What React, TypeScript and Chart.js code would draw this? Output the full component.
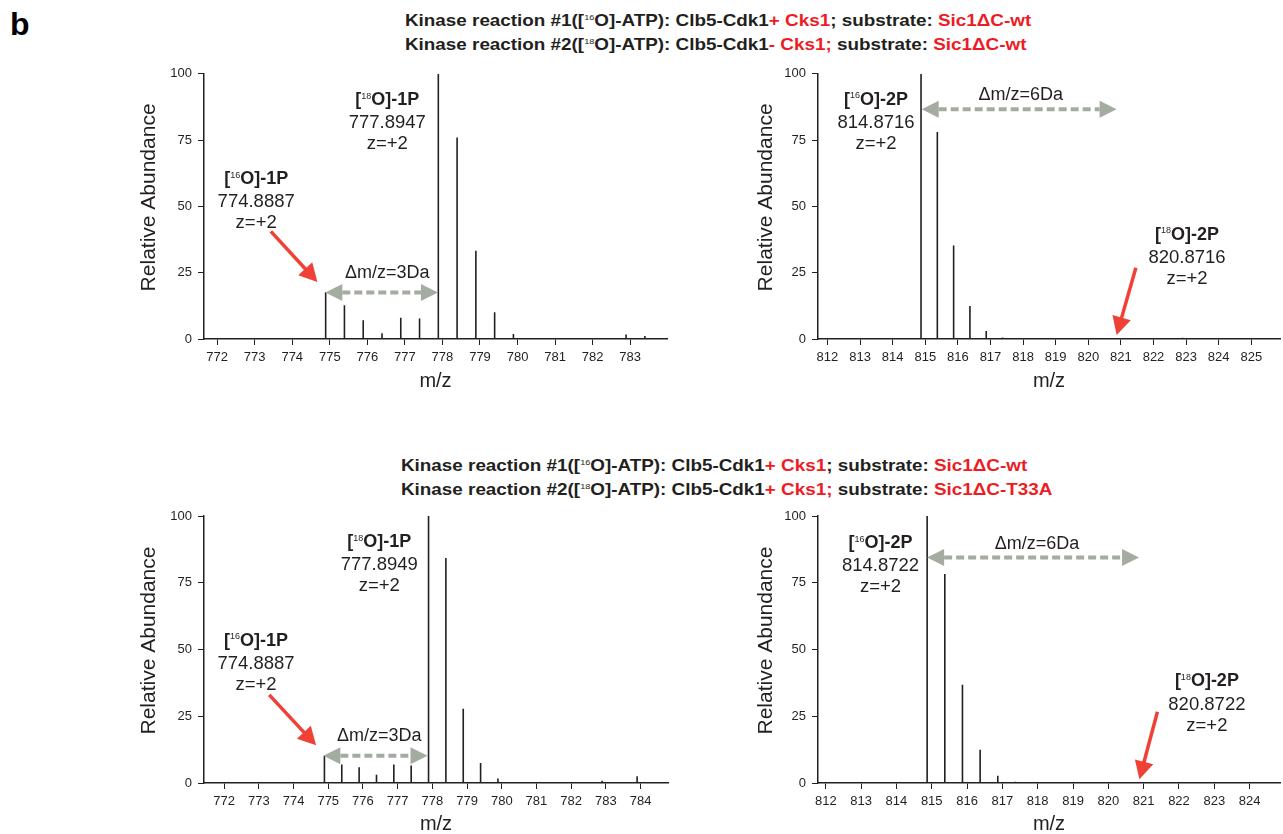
import React, { useEffect, useLayoutEffect, useRef } from 'react';
import { Chart, registerables } from 'chart.js';

Chart.register(...registerables);

const FONT = '"Liberation Sans", Arial, Helvetica, sans-serif';
const INK = '#231f20';
const RED_TEXT = '#ed1c24';
const RED_ARROW = '#ef4136';
const GRAY_ARROW = '#a4aca2';

// ---------------- data ----------------
const yTicks = [0, 25, 50, 75, 100];

// top-left spectrum
const mzTopLeft = [773.4, 774.89, 775.39, 775.89, 776.39, 776.89, 777.39, 777.89, 778.39, 778.89, 779.39, 779.89, 780.4, 782.89, 783.39];
const abTopLeft = [0.3, 17.6, 12.7, 7.1, 2.2, 8.0, 7.7, 100, 76, 33.3, 10.1, 1.9, 0.4, 1.7, 1.1];
const xTicksTopLeft = [772, 773, 774, 775, 776, 777, 778, 779, 780, 781, 782, 783];

// top-right spectrum
const mzTopRight = [814.37, 814.87, 815.37, 815.87, 816.37, 816.87, 817.37, 822.89, 823.39];
const abTopRight = [0.3, 100, 78.1, 35.3, 12.4, 3.0, 0.6, 0.5, 0.4];
const xTicksTopRight = [812, 813, 814, 815, 816, 817, 818, 819, 820, 821, 822, 823, 824, 825];

// bottom-left spectrum
const mzBottomLeft = [772.9, 774.89, 775.39, 775.89, 776.39, 776.89, 777.39, 777.89, 778.39, 778.89, 779.39, 779.89, 780.39, 782.89, 783.39, 783.9];
const abBottomLeft = [0.3, 10.2, 6.9, 5.9, 3.1, 6.9, 6.6, 100, 84.3, 27.8, 7.5, 1.7, 0.4, 0.8, 0.4, 2.5];
const xTicksBottomLeft = [772, 773, 774, 775, 776, 777, 778, 779, 780, 781, 782, 783, 784];

// bottom-right spectrum
const mzBottomRight = [813.9, 814.37, 814.87, 815.37, 815.87, 816.37, 816.87, 817.37, 823.4];
const abBottomRight = [0.3, 0.3, 100, 78.3, 36.8, 12.5, 2.7, 0.5, 0.3];
const xTicksBottomRight = [812, 813, 814, 815, 816, 817, 818, 819, 820, 821, 822, 823, 824];

// annotation texts
const isoTopLeft = [
  { iso: '18', tail: 'O]-1P', lines: ['777.8947', 'z=+2'], x: 776.53, y: 90.6 },
  { iso: '16', tail: 'O]-1P', lines: ['774.8887', 'z=+2'], x: 773.04, y: 60.8 },
];
const isoTopRight = [
  { iso: '16', tail: 'O]-2P', lines: ['814.8716', 'z=+2'], x: 813.49, y: 90.7 },
  { iso: '18', tail: 'O]-2P', lines: ['820.8716', 'z=+2'], x: 823.03, y: 39.8 },
];
const isoBottomLeft = [
  { iso: '18', tail: 'O]-1P', lines: ['777.8949', 'z=+2'], x: 776.47, y: 90.8 },
  { iso: '16', tail: 'O]-1P', lines: ['774.8887', 'z=+2'], x: 772.92, y: 53.9 },
];
const isoBottomRight = [
  { iso: '16', tail: 'O]-2P', lines: ['814.8722', 'z=+2'], x: 813.55, y: 90.4 },
  { iso: '18', tail: 'O]-2P', lines: ['820.8722', 'z=+2'], x: 822.79, y: 38.6 },
];

// titles (text, colour, superscript?)
const titleTop1 = [
  ['Kinase reaction #1([', INK, false], ['16', INK, true], ['O]-ATP): Clb5-Cdk1', INK, false],
  ['+ Cks1', RED_TEXT, false], ['; substrate: ', INK, false], ['Sic1ΔC-wt', RED_TEXT, false],
];
const titleTop2 = [
  ['Kinase reaction #2([', INK, false], ['18', INK, true], ['O]-ATP): Clb5-Cdk1', INK, false],
  ['- Cks1;', RED_TEXT, false], [' substrate: ', INK, false], ['Sic1ΔC-wt', RED_TEXT, false],
];
const titleBottom1 = [
  ['Kinase reaction #1([', INK, false], ['16', INK, true], ['O]-ATP): Clb5-Cdk1', INK, false],
  ['+ Cks1', RED_TEXT, false], ['; substrate: ', INK, false], ['Sic1ΔC-wt', RED_TEXT, false],
];
const titleBottom2 = [
  ['Kinase reaction #2([', INK, false], ['18', INK, true], ['O]-ATP): Clb5-Cdk1', INK, false],
  ['+ Cks1;', RED_TEXT, false], [' substrate: ', INK, false], ['Sic1ΔC-T33A', RED_TEXT, false],
];

// ---------------- panels ----------------
const PANELS = [
  {
    mz: mzTopLeft, ab: abTopLeft, xTicks: xTicksTopLeft, xMin: 771.65, xMax: 783.98,
    iso: isoTopLeft,
    delta: { text: 'Δm/z=3Da', x: 776.53, y: 25.5 },
    gray: { x1: 774.88, x2: 777.88, y: 17.5 },
    red: { x1: 773.43, y1: 40.6, x2: 774.67, y2: 21.5 },
    box: { left: 130, top: 60, width: 545, height: 335, padTop: 12, padRight: 8, xAxisH: 56, yAxisW: 74, mzPad: 4, yTitleGap: 55 },
  },
  {
    mz: mzTopRight, ab: abTopRight, xTicks: xTicksTopRight, xMin: 811.71, xMax: 825.88,
    iso: isoTopRight,
    delta: { text: 'Δm/z=6Da', x: 817.93, y: 92.6 },
    gray: { x1: 814.89, x2: 820.87, y: 86.6 },
    red: { x1: 821.46, y1: 26.9, x2: 820.87, y2: 1.5 },
    box: { left: 745, top: 60, width: 538, height: 335, padTop: 13, padRight: 3, xAxisH: 56, yAxisW: 73, mzPad: 4, yTitleGap: 52 },
  },
  {
    mz: mzBottomLeft, ab: abBottomLeft, xTicks: xTicksBottomLeft, xMin: 771.42, xMax: 784.79,
    iso: isoBottomLeft,
    delta: { text: 'Δm/z=3Da', x: 776.47, y: 18.0 },
    gray: { x1: 774.86, x2: 777.86, y: 10.2 },
    red: { x1: 773.3, y1: 33.0, x2: 774.65, y2: 14.1 },
    box: { left: 130, top: 500, width: 545, height: 334, padTop: 16, padRight: 7, xAxisH: 51, yAxisW: 74, mzPad: 0, yTitleGap: 55 },
  },
  {
    mz: mzBottomRight, ab: abBottomRight, xTicks: xTicksBottomRight, xMin: 811.78, xMax: 824.86,
    iso: isoBottomRight,
    delta: { text: 'Δm/z=6Da', x: 817.98, y: 90.0 },
    gray: { x1: 814.87, x2: 820.87, y: 84.5 },
    red: { x1: 821.39, y1: 26.7, x2: 820.88, y2: 1.4 },
    box: { left: 745, top: 500, width: 538, height: 334, padTop: 16, padRight: 3, xAxisH: 51, yAxisW: 73, mzPad: 0, yTitleGap: 52 },
  },
];

// ---------------- drawing helpers ----------------
function drawIsoLabel(ctx, cx, cy, iso, tail, lines) {
  ctx.save();
  ctx.fillStyle = INK;
  ctx.textAlign = 'left';
  ctx.textBaseline = 'alphabetic';
  const boldF = `bold 18px ${FONT}`;
  const supF = `9px ${FONT}`;
  ctx.font = boldF;
  const wOpen = ctx.measureText('[').width;
  const wTail = ctx.measureText(tail).width;
  ctx.font = supF;
  const wSup = ctx.measureText(iso).width;
  const total = wOpen + wSup + wTail;
  const x0 = cx - total / 2;
  const base = cy + 6.5;
  ctx.font = boldF;
  ctx.fillText('[', x0, base);
  ctx.font = supF;
  ctx.fillText(iso, x0 + wOpen, base - 6.5);
  ctx.font = boldF;
  ctx.fillText(tail, x0 + wOpen + wSup, base);
  ctx.font = `18.5px ${FONT}`;
  ctx.textAlign = 'center';
  const gaps = [23, 21];
  let yy = cy;
  lines.forEach((t, i) => {
    yy += gaps[i] || 21;
    ctx.fillText(t, cx, yy + 6.6);
  });
  ctx.restore();
}

function drawRedArrow(ctx, x1, y1, x2, y2) {
  const ang = Math.atan2(y2 - y1, x2 - x1);
  const headL = 18;
  const headW = 9.5;
  const bx = x2 - Math.cos(ang) * headL;
  const by = y2 - Math.sin(ang) * headL;
  ctx.save();
  ctx.strokeStyle = RED_ARROW;
  ctx.fillStyle = RED_ARROW;
  ctx.lineWidth = 3.5;
  ctx.beginPath();
  ctx.moveTo(x1, y1);
  ctx.lineTo(bx + Math.cos(ang) * 2, by + Math.sin(ang) * 2);
  ctx.stroke();
  ctx.beginPath();
  ctx.moveTo(x2, y2);
  ctx.lineTo(bx + Math.sin(ang) * headW, by - Math.cos(ang) * headW);
  ctx.lineTo(bx - Math.sin(ang) * headW, by + Math.cos(ang) * headW);
  ctx.closePath();
  ctx.fill();
  ctx.restore();
}

function drawGrayArrow(ctx, xa, xb, y) {
  const headL = 17;
  const headH = 8.5;
  ctx.save();
  ctx.strokeStyle = GRAY_ARROW;
  ctx.fillStyle = GRAY_ARROW;
  ctx.lineWidth = 4;
  ctx.setLineDash([8, 4]);
  ctx.beginPath();
  ctx.moveTo(xa + headL, y);
  ctx.lineTo(xb - headL, y);
  ctx.stroke();
  ctx.setLineDash([]);
  ctx.beginPath();
  ctx.moveTo(xa, y);
  ctx.lineTo(xa + headL, y - headH);
  ctx.lineTo(xa + headL, y + headH);
  ctx.closePath();
  ctx.fill();
  ctx.beginPath();
  ctx.moveTo(xb, y);
  ctx.lineTo(xb - headL, y - headH);
  ctx.lineTo(xb - headL, y + headH);
  ctx.closePath();
  ctx.fill();
  ctx.restore();
}

function annotationPlugin(p, idx) {
  return {
    id: 'spectrumAnnotations' + idx,
    afterDraw(chart) {
      const { ctx, chartArea } = chart;
      const xs = chart.scales.x;
      const ys = chart.scales.y;
      const px = (v) => xs.getPixelForValue(v);
      const py = (v) => ys.getPixelForValue(v);

      // y-axis title
      ctx.save();
      ctx.translate(chartArea.left - p.box.yTitleGap, (chartArea.top + chartArea.bottom) / 2 - 9);
      ctx.rotate(-Math.PI / 2);
      ctx.font = `21px ${FONT}`;
      ctx.fillStyle = INK;
      ctx.textAlign = 'center';
      ctx.textBaseline = 'middle';
      ctx.fillText('Relative Abundance', 0, 0);
      ctx.restore();

      p.iso.forEach((l) => drawIsoLabel(ctx, px(l.x), py(l.y), l.iso, l.tail, l.lines));

      ctx.save();
      ctx.font = `18px ${FONT}`;
      ctx.fillStyle = INK;
      ctx.textAlign = 'center';
      ctx.textBaseline = 'alphabetic';
      ctx.fillText(p.delta.text, px(p.delta.x), py(p.delta.y) + 6.5);
      ctx.restore();

      drawGrayArrow(ctx, px(p.gray.x1), px(p.gray.x2), py(p.gray.y));
      drawRedArrow(ctx, px(p.red.x1), py(p.red.y1), px(p.red.x2), py(p.red.y2));
    },
  };
}

function buildChart(canvas, p, idx) {
  const spikes = [];
  p.mz.forEach((m, i) => {
    spikes.push({ x: m, y: 0 }, { x: m, y: p.ab[i] }, { x: m, y: null });
  });
  const axisCommon = {
    grid: { display: true, drawOnChartArea: false, drawTicks: true, tickLength: 6, color: INK, lineWidth: 1 },
    border: { display: true, color: INK, width: 1.5 },
  };
  return new Chart(canvas, {
    type: 'line',
    data: {
      datasets: [
        {
          data: spikes,
          borderColor: INK,
          borderWidth: 1.6,
          pointRadius: 0,
          spanGaps: false,
          tension: 0,
          fill: false,
        },
      ],
    },
    options: {
      animation: false,
      responsive: false,
      maintainAspectRatio: false,
      devicePixelRatio: 1,
      events: [],
      layout: { padding: { left: 0, right: p.box.padRight, top: p.box.padTop, bottom: 0 } },
      plugins: { legend: { display: false }, tooltip: { enabled: false }, title: { display: false } },
      scales: {
        x: {
          type: 'linear',
          min: p.xMin,
          max: p.xMax,
          ...axisCommon,
          afterBuildTicks: (s) => {
            s.ticks = p.xTicks.map((v) => ({ value: v }));
          },
          afterFit: (s) => {
            s.height = p.box.xAxisH;
          },
          ticks: {
            stepSize: 1,
            includeBounds: false,
            autoSkip: false,
            maxRotation: 0,
            minRotation: 0,
            padding: 5,
            color: INK,
            font: { size: 13, family: FONT },
            callback: (v) => String(v),
          },
          title: {
            display: true,
            text: 'm/z',
            color: INK,
            font: { size: 20, family: FONT, lineHeight: 1 },
            padding: { top: 0, bottom: p.box.mzPad },
          },
        },
        y: {
          min: 0,
          max: 100,
          ...axisCommon,
          afterBuildTicks: (s) => {
            s.ticks = yTicks.map((v) => ({ value: v }));
          },
          afterFit: (s) => {
            s.width = p.box.yAxisW;
          },
          ticks: {
            stepSize: 25,
            padding: 6,
            color: INK,
            font: { size: 13, family: FONT },
          },
          title: { display: false },
        },
      },
    },
    plugins: [annotationPlugin(p, idx)],
  });
}

function TitleLine({ segs, left, top }) {
  return (
    <div
      className="fig-title-line"
      style={{
        position: 'absolute',
        left,
        top,
        whiteSpace: 'nowrap',
        fontFamily: FONT,
        fontWeight: 'bold',
        fontSize: '16.5px',
        lineHeight: '17px',
        color: INK,
        transformOrigin: 'left center',
      }}
    >
      {segs.map((s, i) =>
        s[2] ? (
          <span key={i} style={{ fontSize: '8px', fontWeight: 'normal', position: 'relative', top: '-6px', color: s[1] }}>
            {s[0]}
          </span>
        ) : (
          <span key={i} style={{ color: s[1] }}>
            {s[0]}
          </span>
        )
      )}
    </div>
  );
}

export default function App() {
  const r0 = useRef(null);
  const r1 = useRef(null);
  const r2 = useRef(null);
  const r3 = useRef(null);
  const refs = [r0, r1, r2, r3];
  const wrapRef = useRef(null);

  useEffect(() => {
    const charts = PANELS.map((p, i) => buildChart(refs[i].current, p, i));
    return () => charts.forEach((c) => c.destroy());
  }, []);

  useLayoutEffect(() => {
    const els = wrapRef.current ? wrapRef.current.querySelectorAll('.fig-title-line') : [];
    if (!els.length) return;
    const w = els[0].offsetWidth;
    const k = w > 0 ? 626 / w : 1;
    els.forEach((el) => {
      el.style.transform = `scaleX(${k})`;
    });
  }, []);

  return (
    <div
      ref={wrapRef}
      style={{ position: 'absolute', left: 0, top: 0, width: 1283, height: 834, background: '#fff', overflow: 'hidden' }}
    >
      <div
        style={{
          position: 'absolute',
          left: 10,
          top: 8,
          fontFamily: FONT,
          fontWeight: 'bold',
          fontSize: '32px',
          lineHeight: '32px',
          color: '#000',
        }}
      >
        b
      </div>
      <TitleLine segs={titleTop1} left={404.5} top={11.5} />
      <TitleLine segs={titleTop2} left={404.5} top={35.5} />
      <TitleLine segs={titleBottom1} left={400.5} top={457} />
      <TitleLine segs={titleBottom2} left={400.5} top={480.5} />
      {PANELS.map((p, i) => (
        <canvas
          key={i}
          ref={refs[i]}
          width={p.box.width}
          height={p.box.height}
          style={{ position: 'absolute', left: p.box.left, top: p.box.top, width: p.box.width, height: p.box.height }}
        />
      ))}
    </div>
  );
}
